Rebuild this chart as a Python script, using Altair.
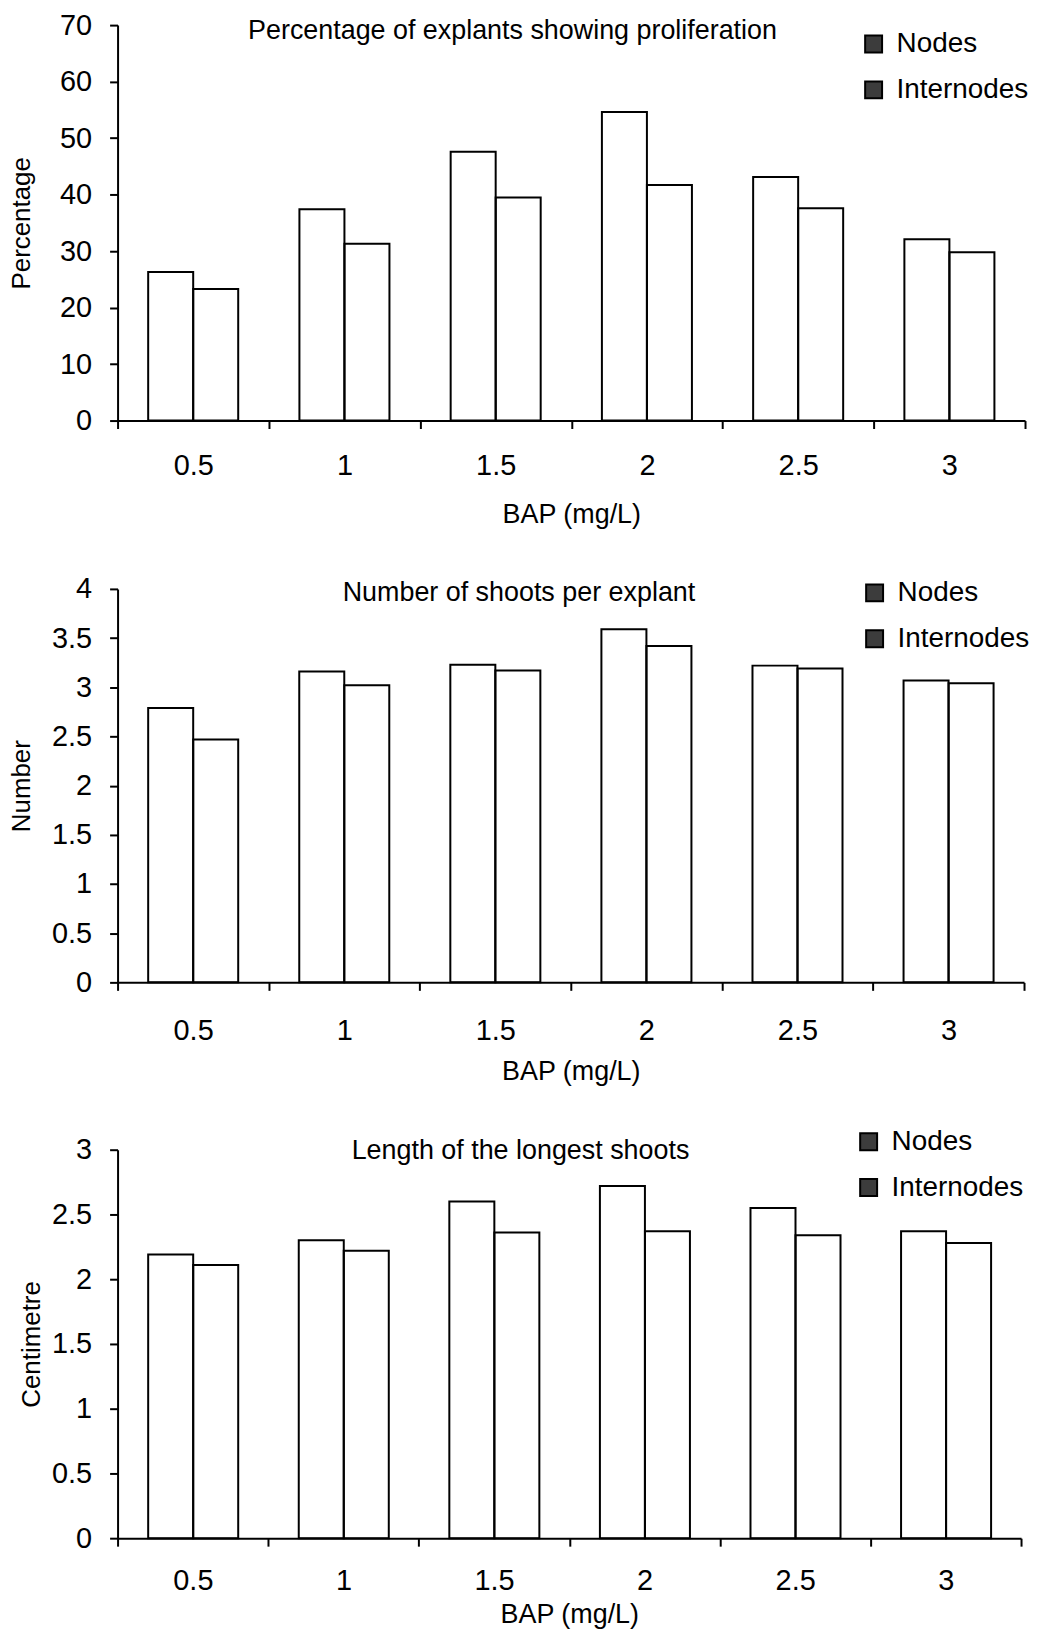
import altair as alt
import pandas as pd

bap = ["0.5", "1", "1.5", "2", "2.5", "3"]
series = ["Nodes", "Internodes"]

prolif_nodes = [26.3, 37.4, 47.6, 54.6, 43.1, 32.1]
prolif_internodes = [23.3, 31.3, 39.5, 41.7, 37.6, 29.8]

shoots_nodes = [2.79, 3.16, 3.23, 3.59, 3.22, 3.07]
shoots_internodes = [2.47, 3.02, 3.17, 3.42, 3.19, 3.04]

length_nodes = [2.19, 2.30, 2.60, 2.72, 2.55, 2.37]
length_internodes = [2.11, 2.22, 2.36, 2.37, 2.34, 2.28]

titles = [
    "Percentage of explants showing proliferation",
    "Number of shoots per explant",
    "Length of the longest shoots",
]
y_titles = ["Percentage", "Number", "Centimetre"]
x_title = "BAP (mg/L)"

FONT = "Liberation Sans, Arial, Helvetica, sans-serif"


def frame(nodes, internodes):
    rows = []
    for b, n, i in zip(bap, nodes, internodes):
        rows.append({"BAP": b, "Series": "Nodes", "Value": n})
        rows.append({"BAP": b, "Series": "Internodes", "Value": i})
    return pd.DataFrame(rows)


def panel(df, title, ytitle, ymax, ystep, W, H, title_x, title_y, leg_x, leg_y,
          ytitle_pad, x_label_pad, x_title_pad):
    yvals = []
    k = 0
    while k * ystep <= ymax + 1e-9:
        yvals.append(round(k * ystep, 3))
        k += 1
    bars = alt.Chart(df).mark_bar(
        stroke="black", strokeWidth=2, fillOpacity=0
    ).encode(
        x=alt.X("BAP:N", sort=bap,
                scale=alt.Scale(paddingInner=0, paddingOuter=0),
                axis=alt.Axis(title=x_title, labelAngle=0, tickBand="extent",
                              labelPadding=x_label_pad, titlePadding=x_title_pad,
                              labelFont=FONT, labelFontSize=29,
                              titleFont=FONT, titleFontSize=27, titleFontWeight="normal")),
        xOffset=alt.XOffset("Series:N", sort=series,
                            scale=alt.Scale(paddingInner=0, paddingOuter=0.68)),
        y=alt.Y("Value:Q", scale=alt.Scale(domain=[0, ymax], nice=False),
                axis=alt.Axis(title=ytitle, values=yvals,
                              labelExpr="datum.value + ''",
                              labelPadding=18, titlePadding=ytitle_pad,
                              labelFont=FONT, labelFontSize=29,
                              titleFont=FONT, titleFontSize=26, titleFontWeight="normal")),
        color=alt.Color("Series:N", sort=series,
                        scale=alt.Scale(domain=series, range=["#3c3c3c", "#3c3c3c"]),
                        legend=alt.Legend(title=None, orient="none",
                                          legendX=leg_x, legendY=leg_y,
                                          symbolType="square", symbolSize=289,
                                          symbolStrokeColor="black", symbolStrokeWidth=2,
                                          symbolOpacity=1,
                                          labelFont=FONT, labelFontSize=28,
                                          labelColor="black", rowPadding=18,
                                          labelOffset=9, padding=0)),
    )
    txt = alt.Chart(alt.Data(values=[{"t": title}])).mark_text(
        align="left", baseline="alphabetic", font=FONT, fontSize=27, color="black"
    ).encode(text="t:N", x=alt.value(title_x), y=alt.value(title_y))
    return alt.layer(bars, txt).properties(width=W, height=H)


p1 = panel(frame(prolif_nodes, prolif_internodes), titles[0], y_titles[0], 70, 10,
           911, 397, 131, 14, 745, 5, 25, 23, 21)
p2 = panel(frame(shoots_nodes, shoots_internodes), titles[1], y_titles[1], 4, 0.5,
           910, 395, 226, 12, 746, -10, 17, 26, 14)
p3 = panel(frame(length_nodes, length_internodes), titles[2], y_titles[2], 3, 0.5,
           907, 390, 235, 9, 740, -22, 7, 21, 6)

top_two = alt.vconcat(p1, p2, spacing=48).resolve_scale(
    color="independent").resolve_legend(color="independent")

chart = alt.vconcat(top_two, p3, spacing=43).resolve_scale(
    color="independent").resolve_legend(color="independent").properties(
    padding={"left": 0, "top": 0, "right": 0, "bottom": 0}
).configure_view(stroke=None).configure_axis(
    domainColor="black", domainWidth=2, tickColor="black", tickWidth=2,
    tickSize=8, labelColor="black", titleColor="black", grid=False
)

chart.save("out.html", embed_options={"renderer": "svg", "actions": False})
